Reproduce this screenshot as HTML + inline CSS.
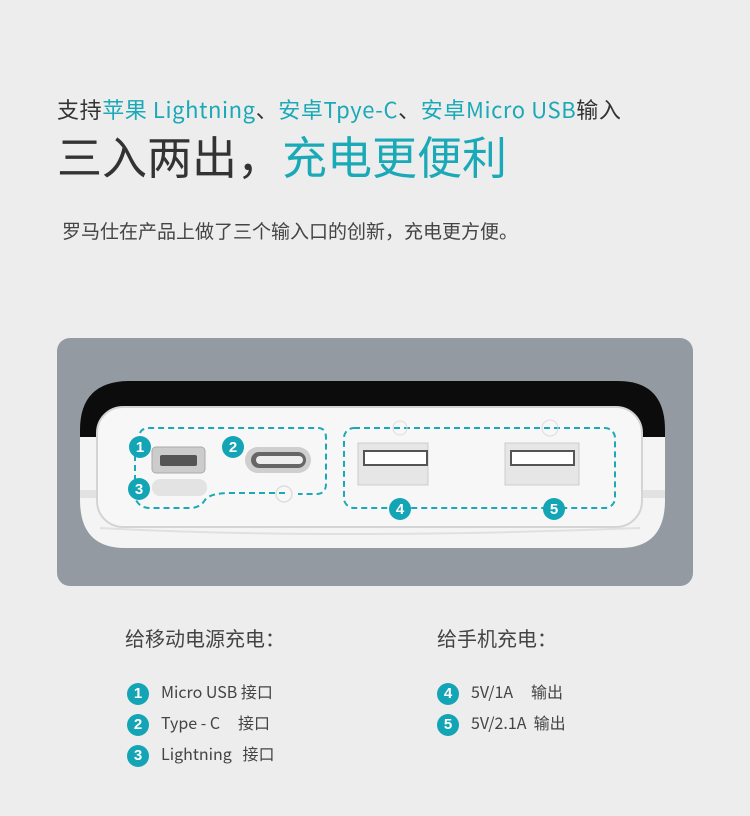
<!DOCTYPE html>
<html><head><meta charset="utf-8"><style>
body{margin:0;width:750px;height:816px;background:#ededed;font-family:"Noto Sans CJK SC","Liberation Sans",sans-serif;color:#333;position:relative;overflow:hidden}
.a{position:absolute;white-space:nowrap}
.c{color:#1aa9b7}
.n{display:inline-block;width:22px;height:22px;border-radius:50%;background:#13a5b5;color:#fff;font-size:15px;font-weight:bold;text-align:center;line-height:22px;margin-right:12px;vertical-align:middle;font-family:"Liberation Sans",sans-serif}
.li{font-size:16px;color:#444;line-height:22px}
</style></head><body>
<div class="a" style="left:57px;top:94px;font-size:22px;color:#333;line-height:30px;letter-spacing:0.6px">支持<span class="c">苹果 Lightning</span>、<span class="c">安卓Tpye-C</span>、<span class="c">安卓Micro USB</span>输入</div>
<div class="a" style="left:57px;top:125px;font-size:45px;color:#333;line-height:60px">三入两出，<span class="c">充电更便利</span></div>
<div class="a" style="left:62px;top:216px;font-size:19px;color:#444;line-height:30px">罗马仕在产品上做了三个输入口的创新，充电更方便。</div>
<svg class="a" style="left:0;top:0" width="750" height="816">
<rect x="57" y="338" width="636" height="248" rx="13" fill="#939aa2"/>
<path d="M80 490 L80 430 Q80 381 130 381 L618 381 Q665 381 665 430 L665 490 Z" fill="#0c0c0c"/>
<path d="M80 437 L665 437 L665 500 Q665 548 620 548 L125 548 Q80 548 80 500 Z" fill="#f4f4f4"/>
<rect x="80" y="490" width="585" height="8" fill="#e2e2e2"/>
<rect x="97" y="407" width="545" height="120" rx="26" fill="#f7f7f7" stroke="#d4d4d4" stroke-width="2"/>
<path d="M100 528 Q330 540 640 528" stroke="#e0e0e0" stroke-width="2" fill="none"/>
<g fill="none" stroke="#1aa9b7" stroke-width="2" stroke-dasharray="6 4">
<path d="M140 433 Q142 428 150 428 L318 428 Q326 428 326 438 L326 484 Q326 494 316 494 L298 494"/>
<path d="M285 493 L230 493 Q210 493 205 500 Q200 508 190 508 L150 508 Q140 508 136 500"/>
<path d="M135 455 L135 480"/>
<rect x="344" y="428" width="271" height="80" rx="10"/>
</g>
<rect x="152" y="447" width="53" height="26" rx="4" fill="#ccc" stroke="#aaa"/>
<rect x="160" y="455" width="37" height="11" rx="2" fill="#555"/>
<rect x="152" y="479" width="55" height="17" rx="8" fill="#e3e3e3"/>
<rect x="245" y="447" width="66" height="26" rx="13" fill="#cfcfcf"/>
<rect x="251" y="452" width="55" height="16" rx="8" fill="#666"/>
<rect x="256" y="456" width="47" height="8" rx="4" fill="#eee"/>
<circle cx="284" cy="494" r="8" fill="none" stroke="#ddd" stroke-width="1.5"/>
<rect x="358" y="443" width="70" height="42" fill="#e6e6e6" stroke="#ccc"/>
<rect x="364" y="451" width="63" height="14" fill="#fff" stroke="#555" stroke-width="2"/>
<rect x="505" y="443" width="74" height="42" fill="#e6e6e6" stroke="#ccc"/>
<rect x="511" y="451" width="63" height="14" fill="#fff" stroke="#555" stroke-width="2"/>
<circle cx="400" cy="428" r="7" fill="none" stroke="#ddd"/>
<circle cx="550" cy="428" r="8" fill="none" stroke="#ddd"/>
<g font-family="Liberation Sans" font-weight="bold" font-size="15" fill="#fff" text-anchor="middle">
<circle cx="140" cy="447" r="11" fill="#13a5b5"/><text x="140" y="452">1</text>
<circle cx="233" cy="447" r="11" fill="#13a5b5"/><text x="233" y="452">2</text>
<circle cx="139" cy="489" r="11" fill="#13a5b5"/><text x="139" y="494">3</text>
<circle cx="400" cy="509" r="11" fill="#13a5b5"/><text x="400" y="514">4</text>
<circle cx="554" cy="509" r="11" fill="#13a5b5"/><text x="554" y="514">5</text>
</g>
</svg>
<div class="a" style="left:125px;top:623px;font-size:20px;color:#444;line-height:30px">给移动电源充电：</div>
<div class="a" style="left:437px;top:623px;font-size:20px;color:#444;line-height:30px">给手机充电：</div>
<div class="a li" style="left:127px;top:680px"><span class="n">1</span>Micro USB 接口</div>
<div class="a li" style="left:127px;top:711px"><span class="n">2</span>Type - C &nbsp;&nbsp;&nbsp;&nbsp;接口</div>
<div class="a li" style="left:127px;top:742px"><span class="n">3</span>Lightning &nbsp;&nbsp;接口</div>
<div class="a li" style="left:437px;top:680px"><span class="n">4</span>5V/1A &nbsp;&nbsp;&nbsp;&nbsp;输出</div>
<div class="a li" style="left:437px;top:711px"><span class="n">5</span>5V/2.1A &nbsp;输出</div>
</body></html>
